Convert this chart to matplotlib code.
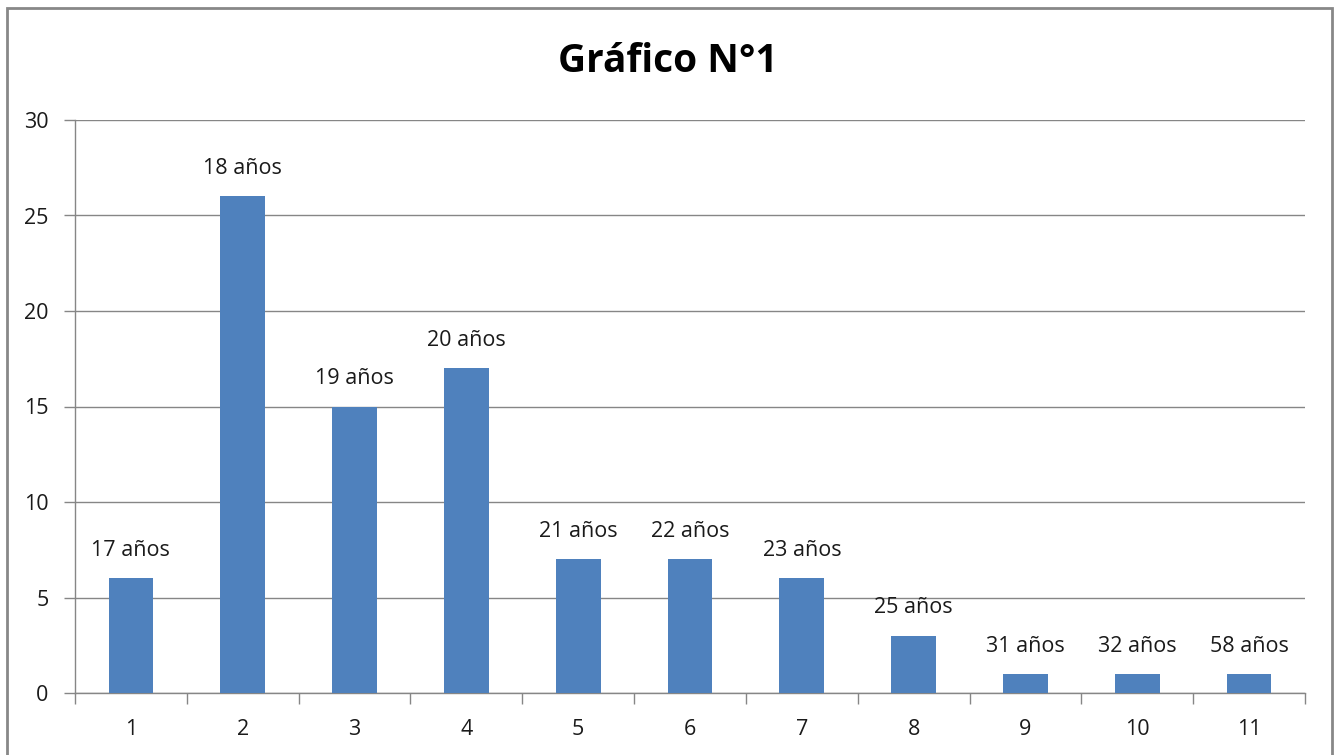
import matplotlib
matplotlib.use("Agg")
import matplotlib.pyplot as plt
from matplotlib.patches import Rectangle
from matplotlib.ticker import FixedLocator

# ---------------------------------------------------------------------------
# Data
# ---------------------------------------------------------------------------
categories = [1, 2, 3, 4, 5, 6, 7, 8, 9, 10, 11]
counts = [6, 26, 15, 17, 7, 7, 6, 3, 1, 1, 1]
age_labels = ["17 años", "18 años", "19 años", "20 años", "21 años", "22 años",
              "23 años", "25 años", "31 años", "32 años", "58 años"]
y_ticks = [0, 5, 10, 15, 20, 25, 30]

BAR_COLOR = "#4F81BD"
GRID_COLOR = "#868686"
TEXT_COLOR = "#1a1a1a"
FONT = ["Open Sans", "DejaVu Sans"]

plt.rcParams["font.family"] = FONT

fig = plt.figure(figsize=(13.35, 7.55), dpi=100)
ax = fig.add_axes([75 / 1335, 62 / 755, 1230 / 1335, 573 / 755])

ax.bar(categories, counts, width=0.4, color=BAR_COLOR, zorder=3)

# data labels (age) above each bar
for x, y, lab in zip(categories, counts, age_labels):
    ax.annotate(lab, (x, y), xytext=(0, 20), textcoords="offset points",
                ha="center", va="center", fontsize=15.5, color=TEXT_COLOR)

ax.set_xlim(0.5, len(categories) + 0.5)
ax.set_ylim(0, 30)
ax.set_yticks(y_ticks)
ax.set_xticks(categories)
ax.set_xticklabels([str(c) for c in categories])
ax.xaxis.set_minor_locator(FixedLocator([c - 0.5 for c in categories] + [len(categories) + 0.5]))
ax.tick_params(axis="x", which="major", length=0, pad=19, labelsize=15.5, colors=TEXT_COLOR)
ax.tick_params(axis="x", which="minor", length=8, width=1, color=GRID_COLOR, direction="out")
ax.tick_params(axis="y", length=8, width=1, color=GRID_COLOR, pad=11, labelsize=15.5,
               labelcolor=TEXT_COLOR)

ax.grid(axis="y", color=GRID_COLOR, linewidth=1, zorder=0)
for side in ["top", "right"]:
    ax.spines[side].set_visible(False)
for side in ["left", "bottom"]:
    ax.spines[side].set_color(GRID_COLOR)
    ax.spines[side].set_linewidth(1)

fig.text(668 / 1335, 1 - 62 / 755, "Gráfico N°1", ha="center", va="center",
         fontsize=28, fontweight="bold", color="black")

# outer chart border
fig.patches.append(Rectangle((7 / 1335, -0.01), 1325 / 1335, 1 - 8 / 755 + 0.01,
                             transform=fig.transFigure, fill=False,
                             edgecolor="#888888", linewidth=2))

fig.savefig("out.png", dpi=100)
